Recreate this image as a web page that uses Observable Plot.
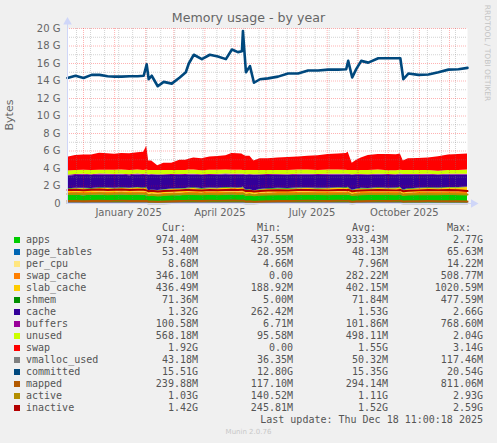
<!DOCTYPE html>
<html><head><meta charset="utf-8">
<script src="https://cdn.jsdelivr.net/npm/d3@7"></script>
<script src="https://cdn.jsdelivr.net/npm/@observablehq/plot@0.6"></script>
<style>
html,body{margin:0;padding:0;background:#f0f0f0;}
#wrap{position:relative;width:497px;height:443px;overflow:hidden;font-family:"DejaVu Sans",sans-serif;background:#f0f0f0;}
#chart{position:absolute;left:0;top:0;}
.t{position:absolute;white-space:pre;}
.mono{font-family:"DejaVu Sans Mono",monospace;font-size:10px;line-height:12px;color:#555;}
.box{position:absolute;width:6px;height:6px;}
</style>
</head><body>
<div id="wrap"><div id="chart"></div></div>
<script>
// ---------- data ----------
const dates = [
"2024-11-15","2024-11-23","2024-12-01","2024-12-09","2024-12-17","2024-12-25","2025-01-01","2025-01-08","2025-01-16","2025-01-24",
"2025-01-30","2025-02-02","2025-02-04","2025-02-07","2025-02-13","2025-02-19","2025-02-27","2025-03-07","2025-03-13","2025-03-16",
"2025-03-21","2025-03-29","2025-04-06","2025-04-14","2025-04-22","2025-04-28","2025-05-04","2025-05-08","2025-05-09","2025-05-12",
"2025-05-16","2025-05-20","2025-05-26","2025-06-03","2025-06-13","2025-06-23","2025-07-03","2025-07-13","2025-07-23","2025-08-02",
"2025-08-12","2025-08-20","2025-08-22","2025-08-26","2025-08-30","2025-09-04","2025-09-11","2025-09-21","2025-10-01","2025-10-09",
"2025-10-13","2025-10-16","2025-10-21","2025-10-31","2025-11-10","2025-11-20","2025-11-30","2025-12-10","2025-12-19"];

// values in G (base 1024)
const apps = [0.92,0.95,0.90,0.93,0.96,0.91,0.94,0.97,0.92,0.95, 0.93,0.90,0.88,0.91,0.86,0.89,0.92,0.90,0.94,0.96, 0.93,0.91,0.95,0.92,0.94,0.97,0.93,0.95,0.96,0.90, 0.92,0.88,0.91,0.93,0.95,0.92,0.94,0.96,0.93,0.91, 0.95,0.94,0.96,0.89,0.92,0.95,0.93,0.96,0.94,0.92, 0.95,0.90,0.93,0.95,0.97,0.94,0.96,0.95,0.97];
const page_tables = [0.046,0.048,0.045,0.047,0.050,0.049,0.048,0.051,0.047,0.049, 0.048,0.052,0.040,0.042,0.044,0.045,0.046,0.047,0.048,0.050, 0.049,0.048,0.050,0.051,0.049,0.052,0.053,0.055,0.060,0.042, 0.044,0.043,0.045,0.046,0.047,0.046,0.048,0.047,0.048,0.049, 0.048,0.049,0.050,0.042,0.045,0.046,0.047,0.048,0.049,0.050, 0.051,0.044,0.046,0.048,0.049,0.050,0.052,0.053,0.053];
const per_cpu = [0.007,0.007,0.007,0.008,0.008,0.008,0.008,0.008,0.008,0.008, 0.008,0.008,0.007,0.007,0.007,0.007,0.008,0.008,0.008,0.008, 0.008,0.008,0.008,0.008,0.008,0.008,0.008,0.008,0.008,0.007, 0.007,0.007,0.008,0.008,0.008,0.008,0.008,0.008,0.008,0.008, 0.008,0.008,0.008,0.007,0.008,0.008,0.008,0.008,0.008,0.008, 0.008,0.007,0.008,0.008,0.008,0.009,0.009,0.009,0.009];
const swap_cache = [0.25,0.28,0.30,0.26,0.29,0.31,0.27,0.30,0.28,0.32, 0.30,0.33,0.12,0.15,0.18,0.20,0.22,0.24,0.26,0.27, 0.29,0.27,0.30,0.28,0.31,0.29,0.33,0.30,0.32,0.15, 0.18,0.10,0.20,0.23,0.25,0.27,0.28,0.30,0.29,0.31, 0.30,0.32,0.34,0.14,0.20,0.25,0.27,0.29,0.30,0.31, 0.33,0.16,0.22,0.26,0.28,0.30,0.32,0.34,0.35];
const slab_cache = [0.38,0.40,0.42,0.39,0.41,0.43,0.40,0.38,0.42,0.44, 0.41,0.45,0.36,0.38,0.35,0.37,0.40,0.42,0.39,0.41, 0.43,0.40,0.38,0.42,0.44,0.41,0.39,0.43,0.45,0.37, 0.39,0.36,0.38,0.40,0.41,0.39,0.42,0.40,0.38,0.41, 0.43,0.40,0.42,0.37,0.39,0.41,0.40,0.42,0.39,0.41, 0.43,0.38,0.40,0.41,0.42,0.40,0.43,0.42,0.44];
const shmem = [0.07,0.07,0.08,0.07,0.07,0.06,0.07,0.08,0.07,0.07, 0.07,0.09,0.06,0.06,0.05,0.06,0.06,0.07,0.07,0.07, 0.08,0.07,0.07,0.07,0.08,0.07,0.07,0.07,0.09,0.06, 0.06,0.05,0.06,0.07,0.07,0.07,0.07,0.07,0.08,0.07, 0.07,0.07,0.08,0.06,0.06,0.07,0.07,0.07,0.07,0.07, 0.08,0.06,0.07,0.07,0.07,0.07,0.07,0.07,0.07];
const cache = [1.46,1.44,1.48,1.49,1.45,1.47,1.50,1.46,1.44,1.43, 1.44,1.42,1.77,1.68,1.725,1.64,1.56,1.53,1.49,1.47, 1.46,1.48,1.44,1.47,1.45,1.42,1.46,1.44,1.34,1.70, 1.625,1.79,1.61,1.53,1.48,1.49,1.47,1.46,1.47,1.48, 1.45,1.44,1.36,1.72,1.60,1.49,1.47,1.46,1.44,1.43, 1.40,1.685,1.55,1.48,1.44,1.42,1.41,1.39,1.36];
const buffers = [0.10,0.11,0.10,0.10,0.12,0.10,0.09,0.10,0.11,0.10, 0.10,0.12,0.06,0.08,0.07,0.08,0.09,0.10,0.10,0.11, 0.10,0.10,0.11,0.10,0.10,0.12,0.10,0.10,0.11,0.07, 0.08,0.06,0.08,0.09,0.10,0.10,0.11,0.10,0.10,0.11, 0.10,0.11,0.12,0.07,0.08,0.09,0.10,0.10,0.11,0.10, 0.11,0.07,0.09,0.10,0.10,0.11,0.10,0.10,0.10];
const unused = [0.47,0.46,0.48,0.47,0.45,0.47,0.46,0.48,0.47,0.46, 0.47,0.45,0.48,0.47,0.49,0.48,0.47,0.46,0.47,0.48, 0.47,0.46,0.48,0.47,0.46,0.45,0.47,0.46,0.44,0.48, 0.47,0.49,0.48,0.47,0.46,0.47,0.48,0.47,0.46,0.47, 0.46,0.45,0.44,0.48,0.47,0.46,0.47,0.46,0.45,0.44, 0.43,0.47,0.46,0.45,0.44,0.40,0.42,0.45,0.48];
const swap = [1.58,1.73,1.73,1.78,1.93,1.88,1.83,1.88,1.93,1.98, 2.08,2.73,1.08,1.08,0.53,0.83,0.83,1.18,1.18,1.23, 1.38,1.38,1.53,1.58,1.63,1.93,1.88,1.83,1.78,1.63, 1.63,1.08,1.33,1.33,1.43,1.48,1.48,1.58,1.68,1.78, 1.83,1.93,2.08,0.83,1.13,1.43,1.73,1.78,1.83,1.83, 1.88,1.08,1.33,1.38,1.43,1.63,1.78,1.83,1.83];
const vmalloc_used = [0.05,0.05,0.05,0.05,0.05,0.05,0.05,0.05,0.05,0.05, 0.05,0.06,0.04,0.04,0.04,0.04,0.05,0.05,0.05,0.05, 0.05,0.05,0.05,0.05,0.05,0.05,0.05,0.05,0.06,0.04, 0.04,0.04,0.05,0.05,0.05,0.05,0.05,0.05,0.05,0.05, 0.05,0.05,0.05,0.04,0.05,0.05,0.05,0.05,0.05,0.05, 0.05,0.04,0.04,0.04,0.04,0.04,0.04,0.04,0.04];
const committed = [14.35,14.6,14.35,14.7,14.7,14.55,14.5,14.5,14.55,14.55, 14.6,15.9,14.2,14.6,13.4,13.9,13.7,14.4,15.0,16.0, 17.0,16.5,17.0,16.8,16.5,17.6,17.3,17.4,19.7,15.0, 15.7,13.8,14.2,14.3,14.5,14.85,14.85,15.2,15.2,15.3, 15.3,15.35,16.3,14.4,15.35,16.3,16.1,16.6,16.6,16.6, 16.6,14.2,14.85,14.7,14.75,15.0,15.3,15.35,15.5];
const mapped = [0.28,0.30,0.27,0.29,0.31,0.28,0.30,0.32,0.29,0.30, 0.29,0.31,0.22,0.24,0.20,0.23,0.26,0.28,0.30,0.31, 0.30,0.29,0.31,0.30,0.32,0.33,0.31,0.32,0.34,0.22, 0.25,0.19,0.23,0.26,0.28,0.29,0.30,0.31,0.30,0.29, 0.31,0.30,0.32,0.21,0.25,0.27,0.29,0.30,0.29,0.30, 0.31,0.22,0.25,0.27,0.28,0.27,0.26,0.25,0.24];
const active = [1.08,1.12,1.05,1.10,1.14,1.07,1.11,1.15,1.09,1.12, 1.10,1.05,0.95,1.00,0.92,0.98,1.03,1.06,1.09,1.11, 1.08,1.05,1.10,1.07,1.11,1.14,1.09,1.12,1.13,0.98, 1.02,0.94,1.00,1.04,1.07,1.05,1.09,1.11,1.08,1.06, 1.10,1.09,1.13,0.96,1.01,1.05,1.08,1.10,1.08,1.06, 1.11,0.97,1.02,1.06,1.09,1.07,1.10,1.06,1.03];
const inactive = [1.55,1.58,1.52,1.56,1.60,1.54,1.57,1.61,1.55,1.58, 1.56,1.50,1.40,1.45,1.38,1.42,1.47,1.50,1.53,1.55, 1.52,1.49,1.54,1.51,1.55,1.58,1.53,1.56,1.57,1.42, 1.46,1.38,1.44,1.48,1.51,1.49,1.53,1.55,1.52,1.50, 1.54,1.53,1.57,1.40,1.45,1.49,1.52,1.54,1.52,1.50, 1.55,1.40,1.46,1.50,1.53,1.51,1.55,1.52,1.42];

const stackKeys = ["apps","page_tables","per_cpu","swap_cache","slab_cache","shmem","cache","buffers","unused","swap"];
const lineKeys = ["vmalloc_used","committed","mapped","active","inactive"];
const legendNames = ["apps","page_tables","per_cpu","swap_cache","slab_cache","shmem","cache","buffers","unused","swap","vmalloc_used","committed","mapped","active","inactive"];
const colors = {apps:"#00CC00",page_tables:"#0066B3",per_cpu:"#FFE680",swap_cache:"#FF8000",slab_cache:"#FFCC00",shmem:"#008F00",cache:"#330099",buffers:"#990099",unused:"#CCFF00",swap:"#FF0000",vmalloc_used:"#808080",committed:"#00487D",mapped:"#B35A00",active:"#B38F00",inactive:"#B30000"};
const legendCur = ["974.40M","53.40M","8.68M","346.10M","436.49M","71.36M","1.32G","100.58M","568.18M","1.92G","43.18M","15.51G","239.88M","1.03G","1.42G"];
const legendMin = ["437.55M","28.95M","4.66M","0.00","188.92M","5.00M","262.42M","6.71M","95.58M","0.00","36.35M","12.80G","117.10M","140.52M","245.81M"];
const legendAvg = ["933.43M","48.13M","7.96M","282.22M","402.15M","71.84M","1.53G","101.86M","498.11M","1.55G","50.32M","15.35G","294.14M","1.11G","1.52G"];
const legendMax = ["2.77G","65.63M","14.22M","508.77M","1020.59M","477.59M","2.66G","768.60M","2.04G","3.14G","117.46M","20.54G","811.06M","2.93G","2.59G"];
const yTicks = [0,2,4,6,8,10,12,14,16,18,20];
const yMinor = [1,3,5,7,9,11,13,15,17,19];
const xLabelDates = ["2025-01-15","2025-04-16","2025-07-17","2025-10-17"];
const xDomain = ["2024-11-15","2025-12-19"];
const titleText = "Memory usage - by year";
const lastUpdate = "Last update: Thu Dec 18 11:00:18 2025";

// ---------- build ----------
const parse = d3.utcParse("%Y-%m-%d");
const X = dates.map(parse);
const series = {apps,page_tables,per_cpu,swap_cache,slab_cache,shmem,cache,buffers,unused,swap,vmalloc_used,committed,mapped,active,inactive};
const stackRows = stackKeys.flatMap(k => series[k].map((v,i)=>({date:X[i], key:k, value:v})));
const lineRows = lineKeys.flatMap(k => series[k].map((v,i)=>({date:X[i], key:k, value:v})));
const x0 = parse(xDomain[0]), x1 = parse(xDomain[1]);
const monthLines = d3.utcMonth.range(x0, x1);
const biweekLines = d3.utcDay.range(parse("2024-11-24"), x1, 14).filter(d => d.getUTCDate() !== 1);
const axisEnd = d3.utcDay.offset(x1, 6);
const axisCol = "#CFD6F8";

const chart = Plot.plot({
  width: 497, height: 216,
  marginTop: 28, marginBottom: 13, marginLeft: 67, marginRight: 30,
  x: {type: "utc", domain: [x0, x1]},
  y: {domain: [0, 20]},
  color: {type: "identity"},
  style: {background: "transparent", color: "#666", fontFamily: "DejaVu Sans, sans-serif", fontSize: "10px", overflow: "visible"},
  marks: [
    Plot.frame({fill: "white", stroke: "none"}),
    Plot.areaY(stackRows, {x: "date", y: "value", z: "key", fill: d => colors[d.key], order: stackKeys}),
    Plot.ruleY(yMinor, {stroke: "rgba(128,128,128,0.35)", strokeDasharray: "1,1"}),
    Plot.ruleX(biweekLines, {stroke: "rgba(128,128,128,0.35)", strokeDasharray: "1,1"}),
    Plot.ruleY(yTicks.filter(v => v > 0), {stroke: "rgba(255,0,0,0.3)", strokeDasharray: "1,1"}),
    Plot.ruleX(monthLines, {stroke: "rgba(255,0,0,0.3)", strokeDasharray: "1,1"}),
    Plot.lineY(lineRows, {x: "date", y: "value", z: "key", stroke: d => colors[d.key], strokeWidth: d => d.key === "committed" ? 2.6 : 2, strokeLinejoin: "round"}),
    Plot.ruleX([x0], {y1: 0, y2: 20.5, stroke: axisCol}),
    Plot.dot([x0], {x: d => d, y: 20.75, symbol: "triangle", r: 3.2, fill: axisCol, stroke: "none"}),
    Plot.ruleY([0], {x1: x0, x2: axisEnd, stroke: axisCol}),
    Plot.dot([axisEnd], {x: d => d, y: 0, symbol: "triangle", r: 3.2, rotate: 90, fill: axisCol, stroke: "none"}),
    Plot.axisY(yTicks, {tickFormat: d => d === 0 ? "0" : d + " G", tickSize: 0, tickPadding: 7, label: null, fill: "#666"}),
    Plot.axisX(xLabelDates.map(parse), {tickFormat: d3.utcFormat("%B %Y"), tickSize: 0, tickPadding: 5, label: null, fill: "#666"})
  ]
});
document.getElementById("chart").appendChild(chart);

// ---------- texts & legend ----------
const wrap = document.getElementById("wrap");
function addText(txt, css, cls) {
  const el = document.createElement("div");
  el.className = "t" + (cls ? " " + cls : "");
  el.textContent = txt;
  Object.assign(el.style, css);
  wrap.appendChild(el);
  return el;
}
addText(titleText, {left: "0px", top: "11px", width: "497px", textAlign: "center", fontSize: "12.6px", lineHeight: "14px", color: "#666"});
addText("Bytes", {left: "10px", top: "115px", fontSize: "11px", lineHeight: "12px", color: "#666", transform: "translate(-50%,-50%) rotate(-90deg)"});
addText("RRDTOOL / TOBI OETIKER", {left: "487px", top: "53px", fontSize: "7.5px", lineHeight: "8px", color: "#c4c4c4", transform: "translate(-50%,-50%) rotate(90deg)"});

const colRight = [198, 293, 388, 483];
const headers = ["Cur:", "Min:", "Avg:", "Max:"];
headers.forEach((h, j) => addText(h, {right: (497 - colRight[j] + 12) + "px", top: (228 - 6) + "px"}, "mono"));
legendNames.forEach((name, i) => {
  const cy = 240 + 12 * i;
  const b = document.createElement("div");
  b.className = "box";
  Object.assign(b.style, {left: "14px", top: (cy - 3) + "px", background: colors[name]});
  wrap.appendChild(b);
  addText(name, {left: "26px", top: (cy - 6) + "px"}, "mono");
  [legendCur, legendMin, legendAvg, legendMax].forEach((arr, j) =>
    addText(arr[i], {right: (497 - colRight[j]) + "px", top: (cy - 6) + "px"}, "mono"));
});
addText(lastUpdate, {right: (497 - 483) + "px", top: (420 - 6) + "px"}, "mono");
addText("Munin 2.0.76", {left: "0px", width: "497px", textAlign: "center", top: "428px", fontSize: "7px", lineHeight: "8px", color: "#c8c8c8"});
</script>
</body></html>
